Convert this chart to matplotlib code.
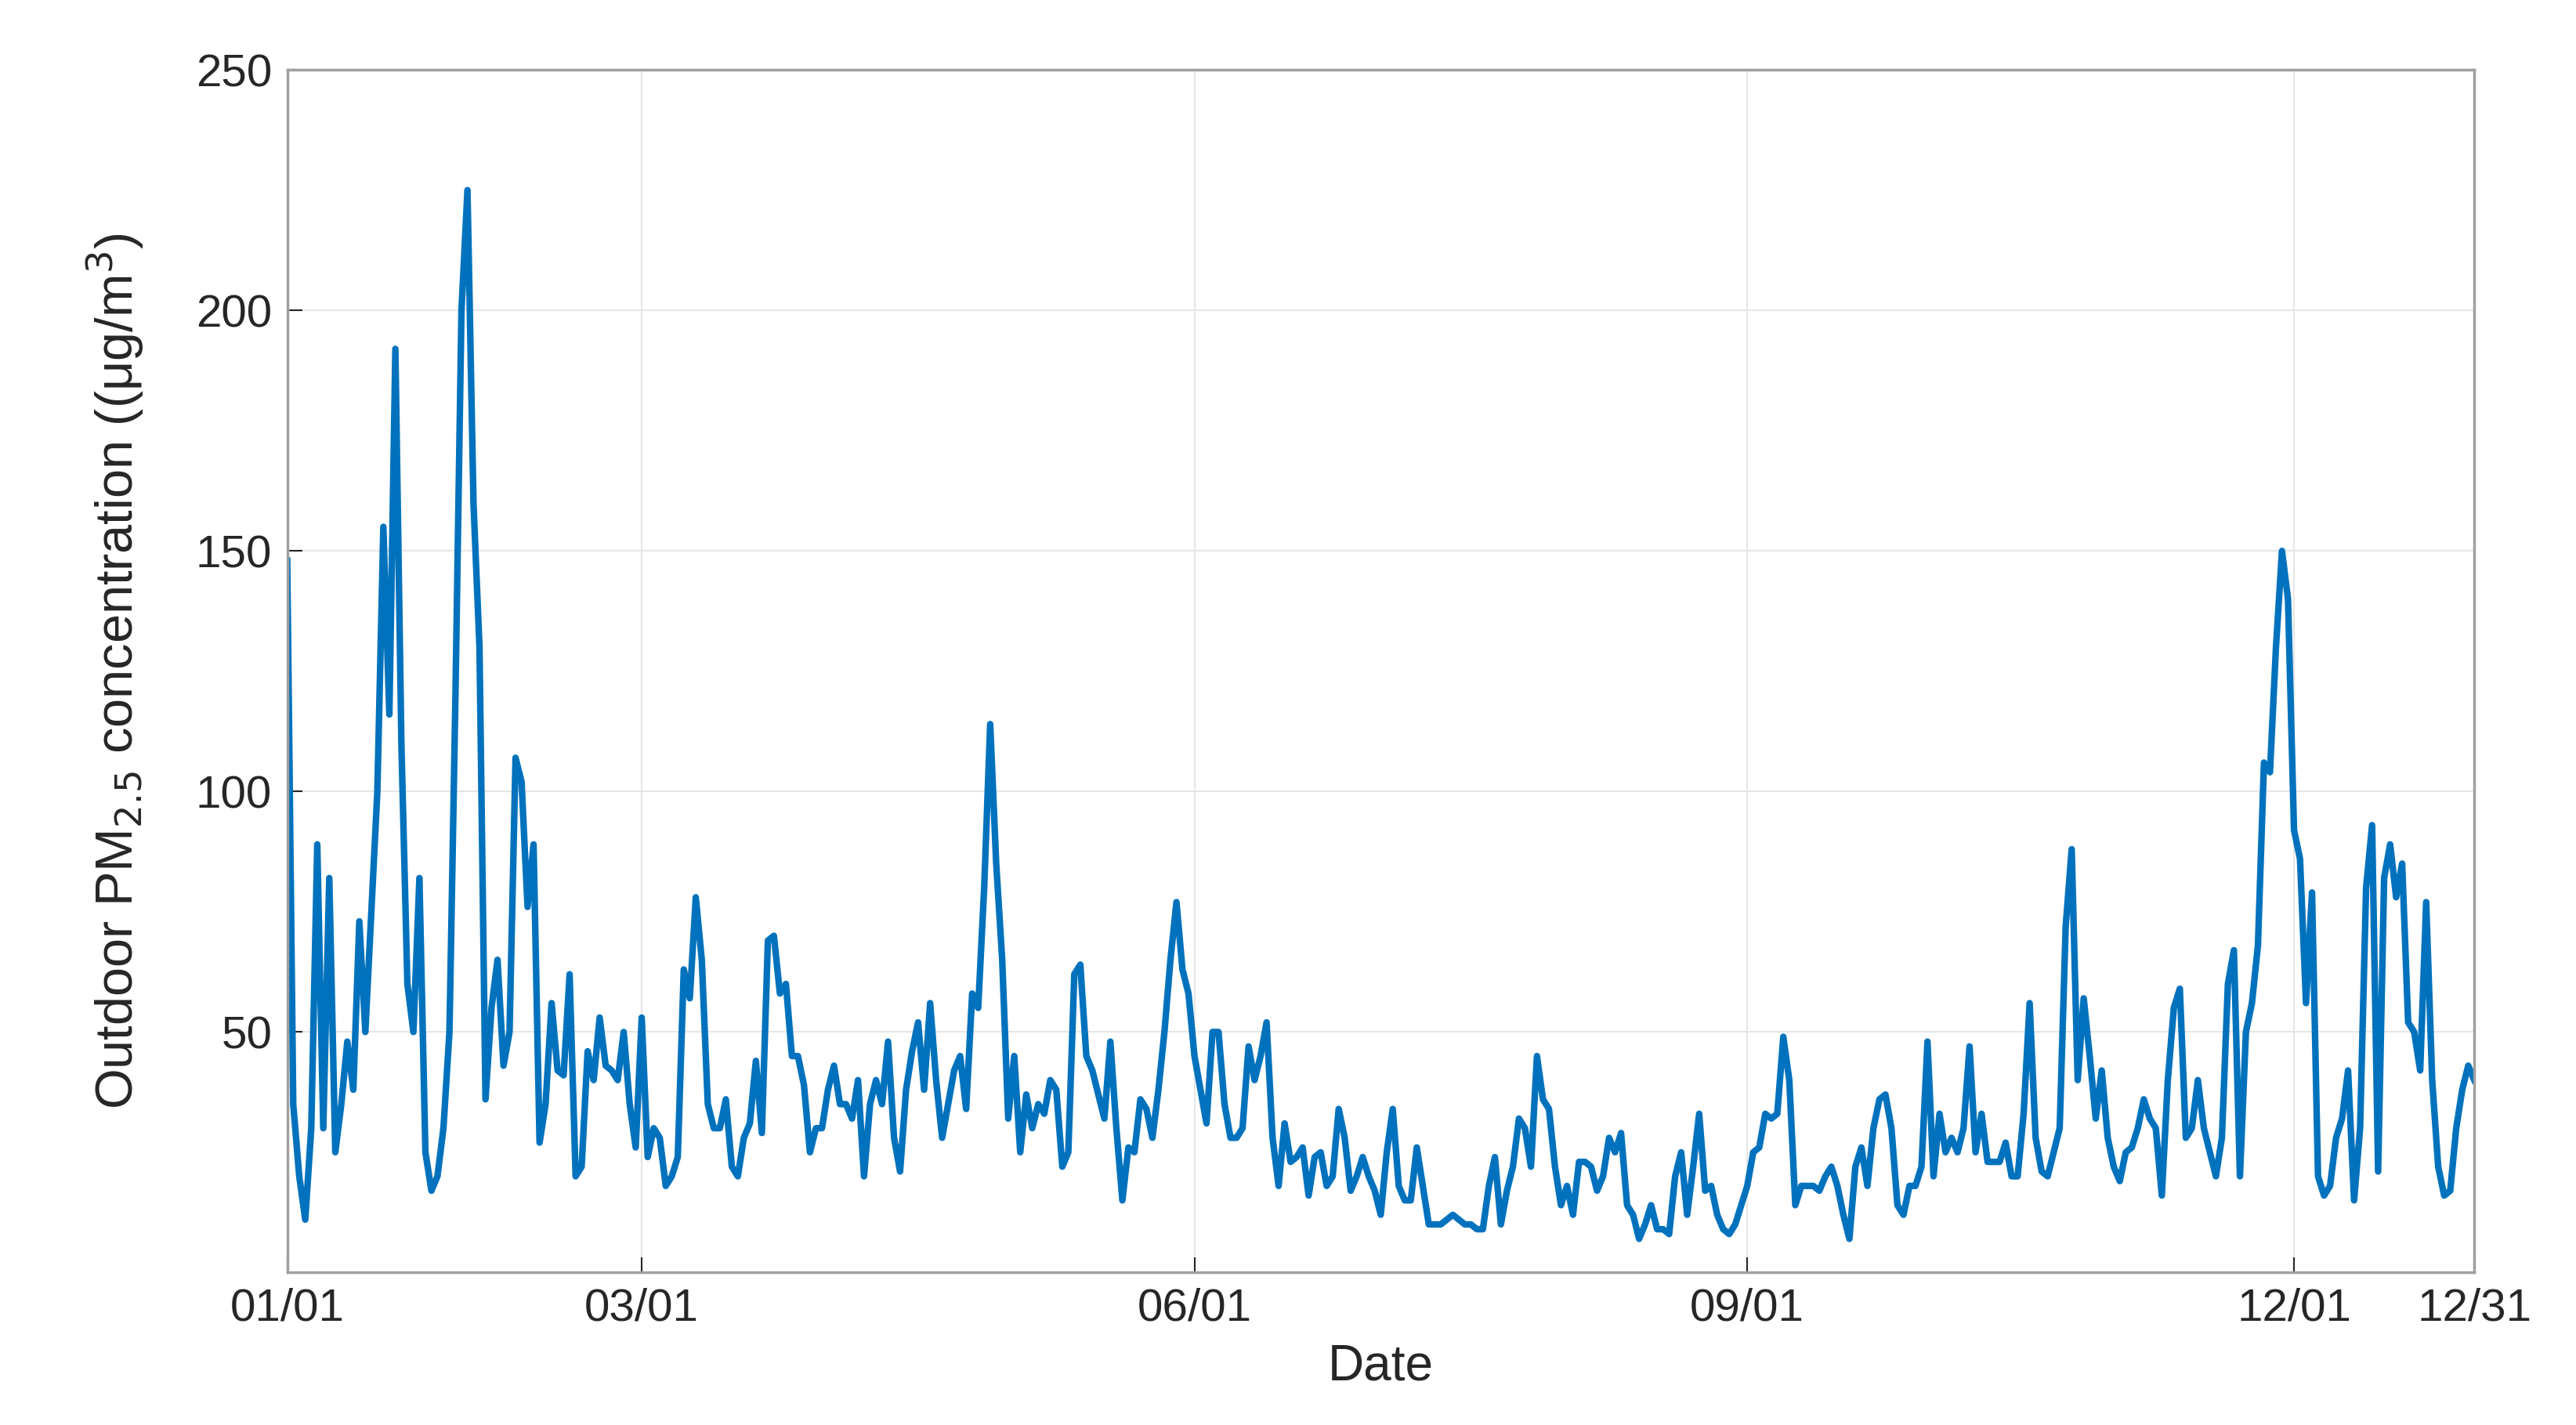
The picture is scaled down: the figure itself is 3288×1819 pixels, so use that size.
import matplotlib
matplotlib.use("Agg")
import matplotlib.pyplot as plt
import numpy as np

jan = [148,35,20,11,30,89,30,82,25,35,48,38,73,50,75,100,155,116,192,110,60,50,82,25,17,20,30,50,120,200,225]
feb = [160,130,36,55,65,43,50,107,102,76,89,27,35,56,42,41,62,20,22,46,40,53,43,42,40,50,35,26]
mar = [53,24,30,28,18,20,24,63,57,78,65,35,30,30,36,22,20,28,31,44,29,69,70,58,60,45,45,39,25,30,30]
apr = [38,43,35,35,32,40,20,35,40,35,48,28,21,38,46,52,38,56,40,28,35,42,45,34,58,55,80,114,85,65]
may = [32,45,25,37,30,35,33,40,38,22,25,62,64,45,42,37,32,48,30,15,26,25,36,34,28,38,50,65,77,63,58]
jun = [45,38,31,50,50,35,28,28,30,47,40,45,52,28,18,31,23,24,26,16,24,25,18,20,34,28,17,20,24,20]
jul = [17,12,25,34,18,15,15,26,18,10,10,10,11,12,11,10,10,9,9,18,24,10,17,22,32,30,22,45,36,34,22]
aug = [14,18,12,23,23,22,17,20,28,25,29,14,12,7,10,14,9,9,8,20,25,12,22,33,17,18,12,9,8,10,14]
sep = [18,25,26,33,32,33,49,40,14,18,18,18,17,20,22,18,12,7,22,26,18,30,36,37,30,14,12,18,18,22]
oct_ = [48,20,33,25,28,25,30,47,25,33,23,23,23,27,20,20,33,56,28,21,20,25,30,72,88,40,57,45,32,42,28]
nov = [22,19,25,26,30,36,32,30,16,40,55,59,28,30,40,30,25,20,28,60,67,20,50,56,68,106,104,130,150,140]
dec = [92,86,56,79,20,16,18,28,32,42,15,30,80,93,21,82,89,78,85,52,50,42,77,40,22,16,17,30,38,43,40]

values = jan + feb + mar + apr + may + jun + jul + aug + sep + oct_ + nov + dec
days = np.arange(len(values))
tick_days = [0, 59, 151, 243, 334, 364]
tick_labels = ["01/01", "03/01", "06/01", "09/01", "12/01", "12/31"]
y_ticks = [50, 100, 150, 200, 250]

plt.rcParams['font.family'] = ['Liberation Sans', 'DejaVu Sans']
fig = plt.figure(figsize=(32.88, 18.19), dpi=100)
ax = fig.add_axes([0.1115, 0.107, 0.849, 0.844])
ax.plot(days, values, color='#0072BD', linewidth=6)
ax.set_xlim(0, 364)
ax.set_ylim(0, 250)
ax.set_xticks(tick_days)
ax.set_xticklabels(tick_labels)
ax.set_yticks(y_ticks)
ax.grid(True, color='#e6e6e6', linewidth=1.5)
ax.set_axisbelow(True)
ax.tick_params(direction='in', length=14, width=1.5, labelsize=42, colors='#262626', pad=14)
for s in ax.spines.values():
    s.set_color('#a0a0a0'); s.set_linewidth(2.5)
ax.set_xlabel("Date", fontsize=46, color='#262626', labelpad=12)
ax.set_ylabel(r"Outdoor PM$_{2.5}$ concentration (($\mathregular{\mu}$g/m$^3$)", fontsize=48, color='#262626', labelpad=46)
fig.savefig("out.png", dpi=100, facecolor='white')
